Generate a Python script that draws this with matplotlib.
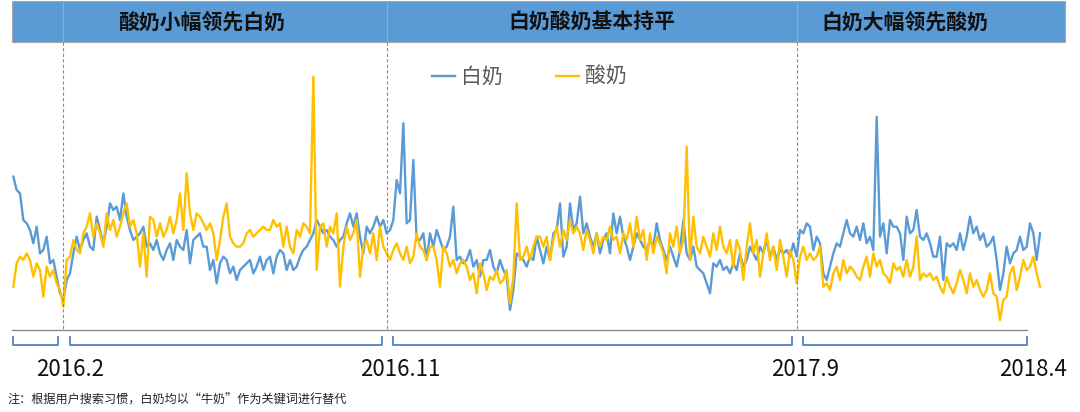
import numpy as np
import matplotlib.pyplot as plt
from matplotlib.patches import Rectangle

plt.rcParams['font.family'] = ['Noto Sans CJK SC', 'DejaVu Sans']

# 搜索指数（相对值），约每 3 天一个点，2016.1 - 2018.4
white_milk = [
    46, 42, 41, 33, 32, 30, 26, 31, 23, 24, 28, 20, 21, 16, 11, 9, 15, 17, 23, 28,
    24, 27, 29, 25, 24, 34, 30, 26, 31, 38, 36, 37, 33, 41, 34, 30, 27, 28, 29, 31,
    25, 26, 24, 27, 23, 21, 24, 26, 21, 27, 25, 24, 30, 20, 27, 28, 29, 25, 25, 18,
    21, 14, 20, 22, 21, 17, 19, 15, 18, 19, 20, 21, 17, 19, 22, 18, 21, 22,
    17, 22, 24, 23, 18, 21, 18, 19, 22, 24, 25, 27, 29, 33, 31, 29, 30, 28, 27, 25,
    27, 28, 32, 35, 31, 35, 28, 23, 31, 29, 31, 34, 31, 33, 29, 30, 33, 45, 41, 62,
    32, 33, 51, 27, 27, 29, 21, 29, 25, 30, 27, 24, 25, 28, 37, 21, 22, 20, 21, 24,
    19, 21, 16, 21, 21, 24, 19, 17, 21, 18, 16, 6, 12, 23, 22, 21, 19, 22, 21, 28, 24,
    20, 25, 21, 29, 30, 38, 22, 25, 38, 30, 32, 40, 29, 32, 28, 25, 29, 23, 27, 29,
    23, 35, 29, 34, 28, 25, 21, 25, 29, 27, 25, 24, 27, 25, 32, 27, 24, 21, 25, 22,
    19, 24, 33, 23, 21, 25, 19, 18, 17, 14, 11, 20, 19, 21, 18, 19, 17, 20, 18, 23,
    19, 21, 25, 23, 21, 25, 23, 27, 22, 25, 21, 24, 23, 24, 22, 26, 22, 30, 29, 32, 31,
    24, 28, 26, 17, 15, 19, 23, 26, 25, 29, 33, 29, 28, 31, 27, 32, 26, 28, 24, 64,
    28, 32, 23, 33, 31, 31, 29, 21, 34, 29, 30, 36, 28, 27, 29, 26, 22, 22, 28, 15,
    26, 25, 26, 24, 29, 24, 28, 34, 29, 31, 27, 29, 25, 26, 28, 21, 12, 17, 25, 20,
    23, 24, 28, 24, 25, 32, 29, 21, 29,
]
yogurt = [
    13, 20, 22, 21, 23, 21, 16, 20, 18, 10, 19, 16, 18, 14, 12, 7, 21, 22, 27, 24,
    23, 29, 31, 35, 28, 32, 29, 25, 35, 30, 33, 28, 31, 35, 38, 31, 33, 29, 19, 29,
    16, 34, 33, 28, 32, 28, 30, 34, 29, 33, 41, 30, 47, 35, 30, 35, 34, 32, 30, 32,
    29, 21, 27, 34, 38, 28, 26, 25, 25, 26, 29, 30, 28, 29, 30, 31, 30, 30,
    33, 31, 32, 25, 31, 25, 23, 30, 28, 32, 31, 29, 76, 18, 31, 32, 25, 31, 29, 35,
    13, 25, 31, 27, 29, 33, 16, 25, 27, 23, 29, 21, 31, 25, 23, 21, 24, 26, 23, 21,
    25, 20, 22, 29, 25, 24, 21, 25, 25, 21, 13, 25, 23, 19, 21, 17, 20, 21, 19, 15,
    17, 11, 20, 17, 12, 16, 15, 18, 14, 15, 18, 8, 16, 38, 21, 22, 25, 21, 25, 28, 28,
    25, 28, 21, 27, 31, 25, 30, 27, 33, 29, 31, 29, 24, 30, 27, 23, 29, 25, 28, 27,
    31, 27, 28, 23, 29, 27, 32, 25, 34, 27, 30, 21, 29, 23, 28, 26, 23, 17, 29, 25,
    31, 23, 27, 55, 21, 34, 25, 23, 28, 25, 22, 29, 24, 31, 25, 23, 27, 19, 27, 24,
    15, 25, 32, 23, 27, 16, 23, 29, 21, 25, 18, 27, 22, 16, 24, 21, 14, 22, 25, 21, 23,
    21, 22, 25, 13, 14, 12, 17, 19, 15, 21, 17, 19, 18, 16, 15, 19, 22, 16, 23, 19,
    21, 17, 16, 14, 20, 18, 19, 16, 21, 16, 19, 28, 15, 17, 16, 17, 15, 16, 13, 11,
    16, 13, 11, 14, 18, 15, 11, 17, 13, 15, 12, 10, 12, 17, 11, 10, 3, 9, 10, 17,
    19, 12, 16, 21, 18, 19, 22, 17, 13,
]

series_names = ['白奶', '酸奶']
colors = ['#5B9BD5', '#FFC000']

# 阶段分界（数据点序号）、时间标签和阶段标题
breaks = [15, 112, 235]
axis_end = 304
date_labels = ['2016.2', '2016.11', '2017.9', '2018.4']
date_label_pos = [17, 116, 237.5, 306]
phase_titles = ['酸奶小幅领先白奶', '白奶酸奶基本持平', '白奶大幅领先酸奶']
phase_title_pos = [56.5, 173.5, 267.5]
note = '注：根据用户搜索习惯，白奶均以“牛奶”作为关键词进行替代'

fig = plt.figure(figsize=(10.8, 4.12), dpi=100)

# 数据层
ax = fig.add_axes([0, 0, 1, 1])
ax.set_xlim(-4, 320)
ax.set_ylim(-24.6, 99)
ax.axis('off')

x = np.arange(len(white_milk))
for vals, name, c in zip([white_milk, yogurt], series_names, colors):
    ax.plot(x, vals, color=c, lw=1.7, label=name, solid_joinstyle='round')

ax.legend(loc='center left', bbox_to_anchor=(422 / 1080, 1 - 77 / 412),
          ncol=2, frameon=False, fontsize=15, handlelength=1.1,
          handletextpad=0.25, columnspacing=2.6, borderpad=0,
          labelcolor='#595959')

# 标注层：x 同数据序号，y 为像素（自上而下）
ov = fig.add_axes([0, 0, 1, 1])
ov.set_xlim(-4, 320)
ov.set_ylim(412, 0)
ov.axis('off')
ov.patch.set_alpha(0)

head_top, head_bot = 1, 42
ov.add_patch(Rectangle((-0.4, head_top), 316, head_bot - head_top,
                       facecolor='#5B9BD5', edgecolor='#A6A6A6', lw=0.8))
for b in breaks:
    ov.plot([b, b], [head_top, head_bot], color='#A6A6A6', lw=0.8)
    ov.plot([b, b], [head_bot, 330], color='#8C8C8C', lw=0.8, ls=(0, (3, 2)))
for t, p in zip(phase_titles, phase_title_pos):
    ov.text(p, 22, t, ha='center', va='center', fontsize=15,
            fontweight='bold', color='#111111')

# 时间轴
ov.plot([-0.4, axis_end], [330, 330], color='#8C8C8C', lw=1)
starts = [-0.1] + [b + 2 for b in breaks]
ends = [b - 1.5 for b in breaks] + [axis_end]
for s, e in zip(starts, ends):
    ov.plot([s, s, e, e], [337, 345, 345, 337], color='#4F81BD', lw=1.3)
for lab, p in zip(date_labels, date_label_pos):
    ov.text(p, 370, lab, ha='center', va='center', fontsize=16, color='#111111')

ov.text(-1.7, 400, note, ha='left', va='center', fontsize=8.7, color='#222222')

fig.savefig('out.png', dpi=100)
